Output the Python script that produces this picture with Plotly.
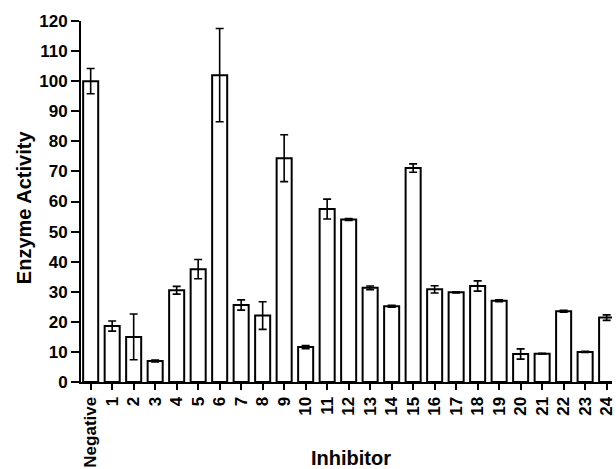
import plotly.graph_objects as go

categories = ["Negative"] + [str(i) for i in range(1, 25)]
activity = [100.0, 18.6, 15.0, 7.0, 30.5, 37.5, 102.0, 25.6, 22.1, 74.4,
            11.6, 57.5, 54.0, 31.3, 25.2, 71.1, 30.8, 29.8, 31.9, 27.0,
            9.3, 9.4, 23.5, 10.0, 21.4]
errors = [4.2, 1.7, 7.6, 0.3, 1.3, 3.2, 15.5, 1.7, 4.6, 7.8,
          0.5, 3.3, 0.3, 0.6, 0.3, 1.4, 1.2, 0.2, 1.7, 0.3,
          1.7, 0.1, 0.3, 0.2, 0.9]
y_ticks = list(range(0, 121, 10))

FONT = "Liberation Sans, Arial, sans-serif"

fig = go.Figure()
fig.add_trace(go.Bar(
    x=categories, y=activity, width=0.7,
    marker=dict(color="white", line=dict(color="black", width=2)),
    error_y=dict(type="data", array=errors, color="black", thickness=1.6, width=4),
    showlegend=False,
))

fig.update_layout(
    width=616, height=469,
    margin=dict(l=81, r=0, t=21, b=87),
    plot_bgcolor="white", paper_bgcolor="white",
    font=dict(family=FONT, size=17, color="black", weight="bold"),
    xaxis=dict(type="category", range=[-0.45, 24.25], showline=True, linecolor="black",
               linewidth=2, ticks="outside", ticklen=6, tickwidth=2, tickcolor="black",
               tickangle=-90, tickfont=dict(family=FONT, size=17, weight="bold"),
               showgrid=False, zeroline=False),
    yaxis=dict(range=[0, 120], tickvals=y_ticks, showline=True, linecolor="black",
               linewidth=2, ticks="outside", ticklen=8, tickwidth=2, tickcolor="black",
               tickfont=dict(family=FONT, size=17, weight="bold"),
               showgrid=False, zeroline=False),
    annotations=[
        dict(text="Inhibitor", xref="paper", yref="paper", x=0.508, y=0, yshift=-76,
             showarrow=False, xanchor="center", yanchor="middle",
             font=dict(family=FONT, size=20, weight="bold")),
        dict(text="Enzyme Activity", xref="paper", yref="paper", x=0, xshift=-57.5, y=0.483,
             textangle=-90, showarrow=False, xanchor="center", yanchor="middle",
             font=dict(family=FONT, size=20, weight="bold")),
    ],
)

fig.write_html("out.html", config={"displayModeBar": False},
               post_script="document.body.style.margin='0px';")
